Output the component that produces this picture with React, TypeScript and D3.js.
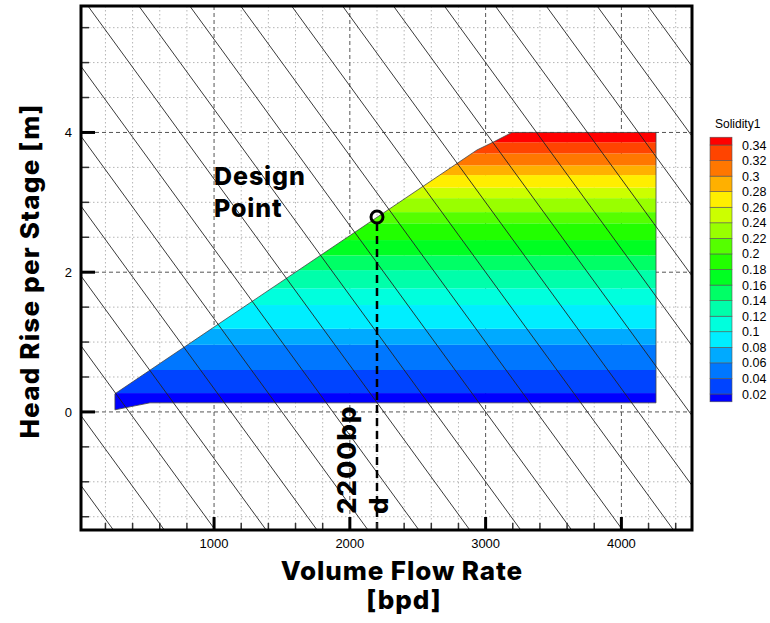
import React from "react";
import * as d3 from "d3";

const W = 770;
const H = 623;

// axes
const xDomain = [20, 4520];
const yDomain = [-1.69, 5.81];
const xMajorTicks = [1000, 2000, 3000, 4000];
const xMinorTicks = [200, 400, 600, 800, 1200, 1400, 1600, 1800, 2200, 2400, 2600, 2800, 3200, 3400, 3600, 3800, 4200, 4400];
const yMajorTicks = [0, 2, 4];
const yMinorTicks = [-1.5, -1, -0.5, 0.5, 1, 1.5, 2.5, 3, 3.5, 4.5, 5, 5.5];

// contour domain (flow rate [bpd], head [m])
const domainQ = [270, 270, 2937, 3054, 3194, 4255, 4255, 528];
const domainH = [0.03, 0.26, 3.75, 3.86, 4.0, 4.0, 0.13, 0.13];

// contour levels and the head at which each level boundary lies
const levels = [0.02, 0.04, 0.06, 0.08, 0.1, 0.12, 0.14, 0.16, 0.18, 0.2, 0.22, 0.24, 0.26, 0.28, 0.3, 0.32, 0.34];
const levelHeads = [0.27, 0.6, 0.96, 1.19, 1.53, 1.77, 2.03, 2.24, 2.46, 2.7, 2.86, 3.06, 3.21, 3.39, 3.53, 3.7, 3.86];
const bandColors = [
  "#0000ff", "#0044ff", "#0077ff", "#00aaff", "#00eeff", "#00ffdd", "#00ffaa", "#00ff66", "#00ff22",
  "#22ff00", "#55ff00", "#99ff00", "#ccff00", "#ffee00", "#ffb000", "#ff7700", "#ff4400", "#ff0000",
];

// diagonal reference lines: head = offset - Q / hatchRun
const hatchOffsets = [-2, -1, 0, 1, 2, 3, 4, 5, 6, 7, 8, 9, 10, 11, 12, 13, 14, 15, 16, 17, 18];
const hatchRun = 375;

const designQ = 2200;
const designH = 2.79;

const PL = 81, PR = 692, PT = 6, PB = 530;

export default function App() {
  const x = d3.scaleLinear().domain(xDomain).range([PL, PR]);
  const y = d3.scaleLinear().domain(yDomain).range([PB, PT]);

  const domainPts = domainQ.map((q, i) => [x(q), y(domainH[i])] as [number, number]);
  const domainPath = d3.line()(domainPts) + "Z";

  const legendY = d3.scaleLinear().domain([0.02, 0.34]).range([394, 145]);
  const legendBounds = [0.01, ...levels, 0.35];
  const fmt = (v: number) => String(+v.toFixed(2));

  const tickFont = "'Liberation Sans', Arial, sans-serif";
  const boldFont = "Inter, 'Open Sans', sans-serif";

  return (
    <svg width={W} height={H} style={{ position: "absolute", left: 0, top: 0, background: "#fff" }}>
      <defs>
        <clipPath id="plotClip">
          <rect x={PL} y={PT} width={PR - PL} height={PB - PT} />
        </clipPath>
        <clipPath id="domClip">
          <path d={domainPath} />
        </clipPath>
      </defs>
      <rect x={0} y={0} width={W} height={H} fill="#fff" />

      {/* minor grid */}
      <g stroke="#b5b5b5" strokeWidth={1} strokeDasharray="1.5,2.5">
        {xMinorTicks.map((t) => (
          <line key={"xm" + t} x1={x(t)} x2={x(t)} y1={PT} y2={PB} />
        ))}
        {yMinorTicks.map((t) => (
          <line key={"ym" + t} x1={PL} x2={PR} y1={y(t)} y2={y(t)} />
        ))}
      </g>
      {/* major grid */}
      <g stroke="#555" strokeWidth={1} strokeDasharray="4,3">
        {xMajorTicks.map((t) => (
          <line key={"xM" + t} x1={x(t)} x2={x(t)} y1={PT} y2={PB} />
        ))}
        {yMajorTicks.map((t) => (
          <line key={"yM" + t} x1={PL} x2={PR} y1={y(t)} y2={y(t)} />
        ))}
      </g>

      {/* contour bands */}
      <g clipPath="url(#domClip)">
        {bandColors.map((c, i) => {
          const lo = i === 0 ? -10 : levelHeads[i - 1];
          const hi = i === bandColors.length - 1 ? 10 : levelHeads[i];
          return (
            <rect key={"b" + i} x={PL} width={PR - PL} y={y(hi)} height={y(lo) - y(hi)} fill={c} />
          );
        })}
      </g>
      <path d={domainPath} fill="none" stroke="#444" strokeWidth={0.8} />

      {/* diagonal lines */}
      <g clipPath="url(#plotClip)" stroke="#222" strokeWidth={0.9}>
        {hatchOffsets.map((k) => {
          const q1 = -1000, q2 = 6000;
          return (
            <line key={"h" + k} x1={x(q1)} y1={y(k - q1 / hatchRun)} x2={x(q2)} y2={y(k - q2 / hatchRun)} />
          );
        })}
      </g>

      {/* design point */}
      <line x1={x(designQ)} x2={x(designQ)} y1={y(designH) + 6} y2={PB} stroke="#000" strokeWidth={2.5} strokeDasharray="8,5" />
      <circle cx={x(designQ)} cy={y(designH)} r={6} fill="none" stroke="#000" strokeWidth={3} />

      {/* ticks */}
      <g>
        {xMinorTicks.map((t) => (
          <line key={"xt" + t} x1={x(t)} x2={x(t)} y1={PB} y2={PB - 7} stroke="#333" strokeWidth={1.5} />
        ))}
        {xMajorTicks.map((t) => (
          <line key={"xT" + t} x1={x(t)} x2={x(t)} y1={PB} y2={PB - 13} stroke="#000" strokeWidth={3} />
        ))}
        {yMinorTicks.map((t) => (
          <line key={"yt" + t} x1={PL} x2={PL + 8} y1={y(t)} y2={y(t)} stroke="#333" strokeWidth={1.5} />
        ))}
        {yMajorTicks.map((t) => (
          <line key={"yT" + t} x1={PL} x2={PL + 14} y1={y(t)} y2={y(t)} stroke="#000" strokeWidth={3} />
        ))}
      </g>

      {/* frame */}
      <rect x={PL} y={PT} width={PR - PL} height={PB - PT} fill="none" stroke="#000" strokeWidth={3} />

      {/* tick labels */}
      <g fontFamily={tickFont} fontSize={13} fill="#000">
        {xMajorTicks.map((t) => (
          <text key={"xl" + t} x={x(t)} y={548} textAnchor="middle">{t}</text>
        ))}
        {yMajorTicks.map((t) => (
          <text key={"yl" + t} x={72} y={y(t) + 5} textAnchor="end">{t}</text>
        ))}
      </g>

      {/* axis titles */}
      <g fontFamily={boldFont} fontWeight={800} fill="#000">
        <text x={402} y={580} fontSize={26} letterSpacing={0.9} textAnchor="middle">Volume Flow Rate</text>
        <text x={404} y={609} fontSize={26} letterSpacing={0.9} textAnchor="middle">[bpd]</text>
        <text transform="translate(39,271) rotate(-90)" fontSize={26} letterSpacing={1.2} textAnchor="middle">Head Rise per Stage [m]</text>
        <text x={214} y={185} fontSize={25} letterSpacing={0.9}>Design</text>
        <text x={214} y={217} fontSize={25} letterSpacing={0.9}>Point</text>
        <text transform="translate(356,514) rotate(-90)" fontSize={26} letterSpacing={1}>2200bp</text>
        <text transform="translate(388,514) rotate(-90)" fontSize={26}>d</text>
      </g>

      {/* legend */}
      <g>
        <text x={715} y={128} fontFamily={tickFont} fontSize={12} fill="#000">Solidity1</text>
        {bandColors.map((c, i) => {
          const lo = legendBounds[i];
          const hi = legendBounds[i + 1];
          return (
            <rect key={"lg" + i} x={710} width={22} y={legendY(hi)} height={legendY(lo) - legendY(hi)} fill={c} stroke="#555" strokeWidth={0.6} />
          );
        })}
        {levels.map((v) => (
          <text key={"ll" + v} x={742} y={legendY(v) + 4.5} fontFamily={tickFont} fontSize={12.5} fill="#000">{fmt(v)}</text>
        ))}
      </g>
    </svg>
  );
}
